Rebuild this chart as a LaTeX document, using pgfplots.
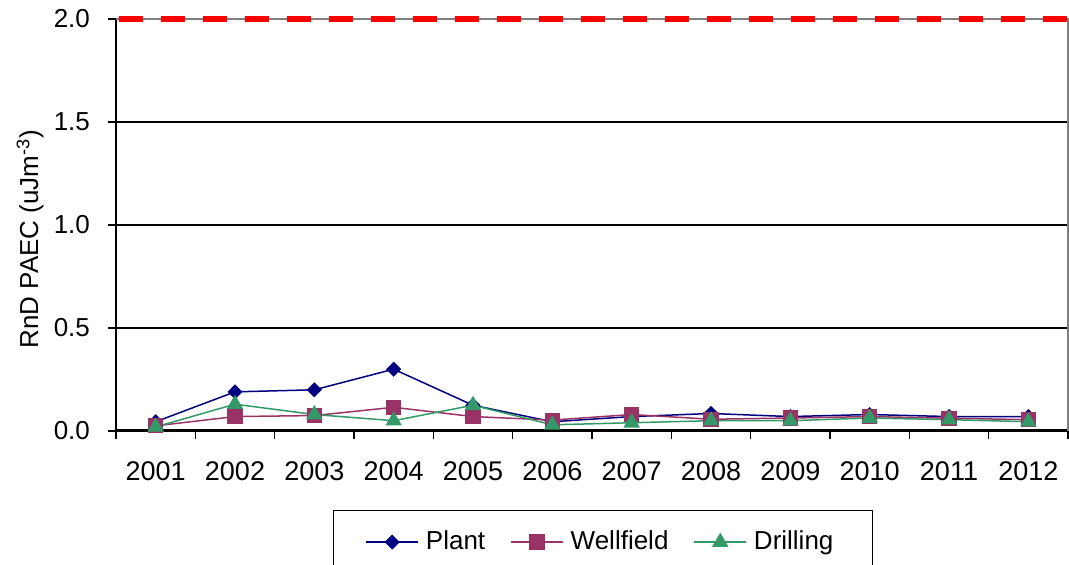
\documentclass[border=0pt]{standalone}
\usepackage{pgfplots}
\pgfplotsset{compat=1.18}
\usepackage{fontspec}
\setmainfont{Liberation Sans}
\definecolor{plantc}{RGB}{0,0,128}
\definecolor{wellc}{RGB}{153,51,102}
\definecolor{drillc}{RGB}{51,153,102}
\begin{document}
\fontsize{13pt}{15.6pt}\selectfont
\begin{tikzpicture}
\path[use as bounding box] (-58pt,-67pt) rectangle (476.5pt,215.5pt);
\begin{axis}[
  at={(0,0)}, anchor=south west,
  scale only axis, width=476pt, height=206pt,
  xmin=0.5, xmax=12.5, ymin=0, ymax=2,
  xtick={0.5,1.5,...,12.5},
  x tick label as interval,
  xticklabels={2001,2002,2003,2004,2005,2006,2007,2008,2009,2010,2011,2012},
  ytick={0,0.5,1,1.5},
  extra y ticks={2},
  extra y tick style={grid=none},
  y tick label style={/pgf/number format/fixed, /pgf/number format/fixed zerofill, /pgf/number format/precision=1},
  /pgf/number format/assume math mode=true,
  yticklabel style={font=\fontsize{13pt}{15pt}\selectfont, xshift=-4.5pt},
  xticklabel style={font=\fontsize{13.5pt}{16pt}\selectfont, yshift=-7pt},
  axis x line*=bottom, axis y line*=left,
  x axis line style={line width=1.5pt,-},
  y axis line style={line width=1pt,-},
  tick align=outside, tick pos=left,
  major tick length=4pt,
  tick style={black, line width=0.8pt},
  ymajorgrids, grid style={black, line width=0.7pt},
  ylabel={RnD PAEC (uJm\textsuperscript{-3})},
  ylabel style={at={(axis description cs:-0.0903,0.466)}, anchor=center, font=\fontsize{13pt}{15pt}\selectfont},
  clip=false,
  legend columns=3,
  legend style={at={(axis description cs:0.5115,-0.1917)}, anchor=north, draw=black, line width=0.7pt,
    inner xsep=16pt, inner ysep=8pt, font=\fontsize{13pt}{15pt}\selectfont,
    nodes={inner xsep=3.5pt},
    /tikz/every even column/.append style={column sep=9pt}},
  legend image code/.code={\draw[mark repeat=2,mark phase=2] plot coordinates {(0pt,0pt) (13pt,0pt) (26pt,0pt)};},
]
\addplot[gray, line width=1pt, forget plot] coordinates {(0.5,2) (12.5,2) (12.5,0)};
\addplot[red, line width=3pt, dash pattern=on 12pt off 9pt, forget plot] coordinates {(0.5378,2) (12.5,2)};
\addplot[plantc, line width=0.75pt, mark=square*, mark size=2.3pt, mark options={solid, fill=plantc, rotate=45}] coordinates {
(1,0.045) (2,0.19) (3,0.20) (4,0.30) (5,0.125) (6,0.045) (7,0.07) (8,0.085) (9,0.07) (10,0.08) (11,0.07) (12,0.07)};
\addlegendentry{Plant}
\addplot[wellc, line width=0.75pt, mark=square*, mark size=3.4pt, mark options={solid, fill=wellc}] coordinates {
(1,0.025) (2,0.07) (3,0.075) (4,0.115) (5,0.07) (6,0.053) (7,0.08) (8,0.057) (9,0.063) (10,0.07) (11,0.062) (12,0.055)};
\addlegendentry{Wellfield}
\addplot[drillc, line width=0.75pt, mark=triangle*, mark size=4pt, mark options={solid, fill=drillc}] coordinates {
(1,0.02) (2,0.13) (3,0.08) (4,0.05) (5,0.125) (6,0.03) (7,0.04) (8,0.05) (9,0.05) (10,0.063) (11,0.055) (12,0.045)};
\addlegendentry{Drilling}
\end{axis}
\end{tikzpicture}
\end{document}
